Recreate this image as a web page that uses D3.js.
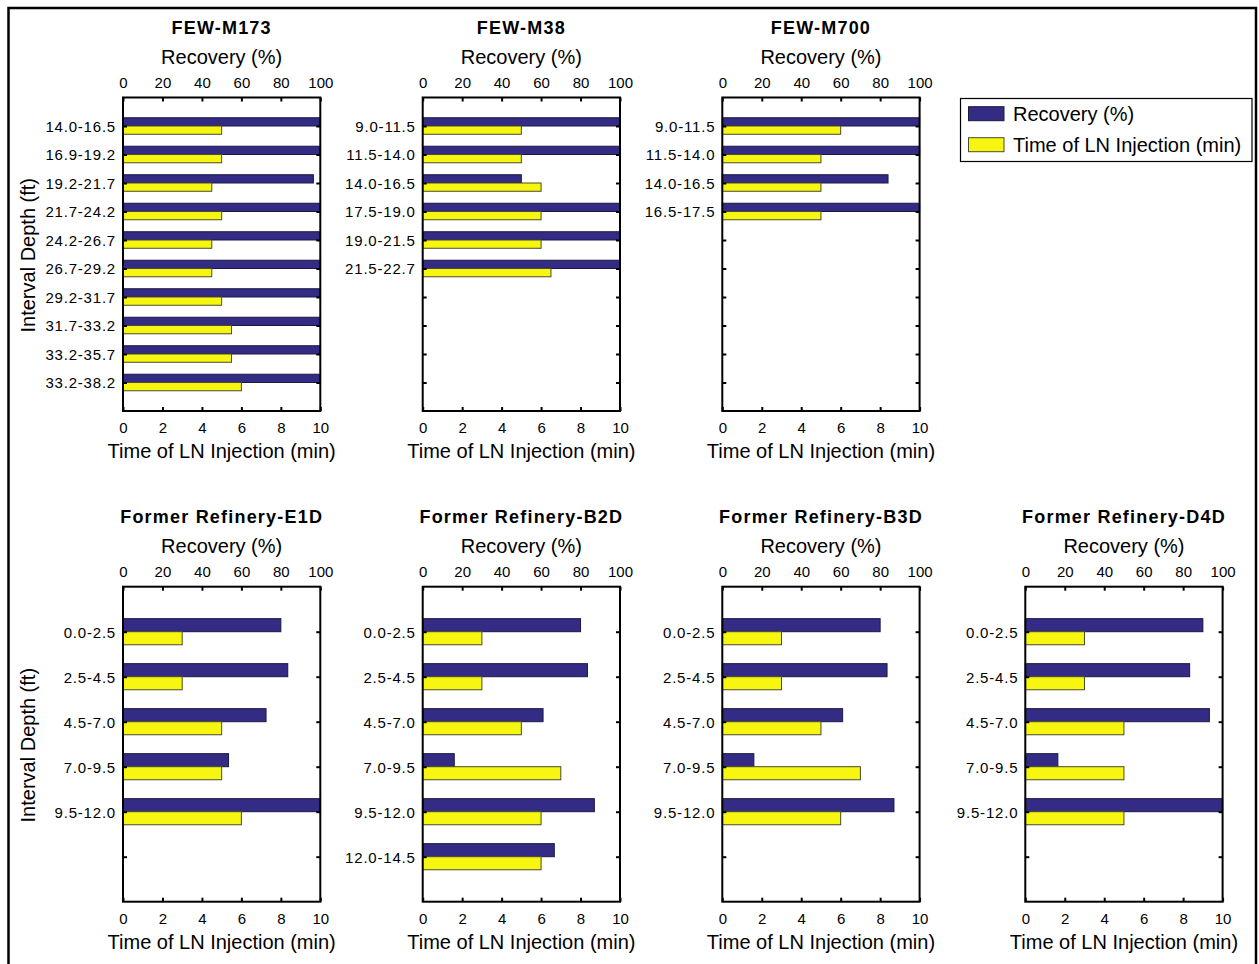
<!DOCTYPE html>
<html>
<head>
<meta charset="utf-8">
<script src="https://cdn.jsdelivr.net/npm/d3@7"></script>
<style>
  html, body { margin: 0; padding: 0; background: #fff; }
  svg { display: block; font-family: "Liberation Sans", Arial, Helvetica, sans-serif; }
</style>
</head>
<body>
<svg id="chart" width="1259" height="964"></svg>
<script>
// ---------------- DATA ----------------
const seriesNames = ["Recovery (%)", "Time of LN Injection (min)"];
const recoveryTicks = [0, 20, 40, 60, 80, 100];
const timeTicks = [0, 2, 4, 6, 8, 10];

const m173Depths = ["14.0-16.5", "16.9-19.2", "19.2-21.7", "21.7-24.2", "24.2-26.7", "26.7-29.2", "29.2-31.7", "31.7-33.2", "33.2-35.7", "33.2-38.2"];
const m173Recovery = [100, 100, 96.5, 100, 100, 100, 100, 100, 100, 100];
const m173Time = [5, 5, 4.5, 5, 4.5, 4.5, 5, 5.5, 5.5, 6];

const m38Depths = ["9.0-11.5", "11.5-14.0", "14.0-16.5", "17.5-19.0", "19.0-21.5", "21.5-22.7"];
const m38Recovery = [100, 100, 50, 100, 100, 100];
const m38Time = [5, 5, 6, 6, 6, 6.5];

const m700Depths = ["9.0-11.5", "11.5-14.0", "14.0-16.5", "16.5-17.5"];
const m700Recovery = [100, 100, 84, 100];
const m700Time = [6, 5, 5, 5];

const e1dDepths = ["0.0-2.5", "2.5-4.5", "4.5-7.0", "7.0-9.5", "9.5-12.0"];
const e1dRecovery = [80, 83.5, 72.5, 53.5, 100];
const e1dTime = [3, 3, 5, 5, 6];

const b2dDepths = ["0.0-2.5", "2.5-4.5", "4.5-7.0", "7.0-9.5", "9.5-12.0", "12.0-14.5"];
const b2dRecovery = [80, 83.5, 61, 16, 87, 66.7];
const b2dTime = [3, 3, 5, 7, 6, 6];

const b3dDepths = ["0.0-2.5", "2.5-4.5", "4.5-7.0", "7.0-9.5", "9.5-12.0"];
const b3dRecovery = [80, 83.5, 61, 16, 87];
const b3dTime = [3, 3, 5, 7, 6];

const d4dDepths = ["0.0-2.5", "2.5-4.5", "4.5-7.0", "7.0-9.5", "9.5-12.0"];
const d4dRecovery = [90, 83.3, 93.3, 16.5, 100];
const d4dTime = [3, 3, 5, 5, 5];

const panels = [
  { title: "FEW-M173", depths: m173Depths, recovery: m173Recovery, time: m173Time, row: 0, col: 0 },
  { title: "FEW-M38", depths: m38Depths, recovery: m38Recovery, time: m38Time, row: 0, col: 1 },
  { title: "FEW-M700", depths: m700Depths, recovery: m700Recovery, time: m700Time, row: 0, col: 2 },
  { title: "Former Refinery-E1D", depths: e1dDepths, recovery: e1dRecovery, time: e1dTime, row: 1, col: 0 },
  { title: "Former Refinery-B2D", depths: b2dDepths, recovery: b2dRecovery, time: b2dTime, row: 1, col: 1 },
  { title: "Former Refinery-B3D", depths: b3dDepths, recovery: b3dRecovery, time: b3dTime, row: 1, col: 2 },
  { title: "Former Refinery-D4D", depths: d4dDepths, recovery: d4dRecovery, time: d4dTime, row: 1, col: 3 }
];

// ---------------- LAYOUT ----------------
const colX = [123, 422.7, 722.3, 1025.3];
const panelW = 197.3;
const rowTop = [97.5, 586.7];
const rowH = [313.5, 315];
const rowSlots = [10, 6];
const colorRec = "#342b85";
const colorTime = "#f6f611";
const barHalf = 0.29;

const svg = d3.select("#chart");

// outer frame
svg.append("rect")
  .attr("x", 8.5).attr("y", 8).attr("width", 1247.5).attr("height", 1000)
  .attr("fill", "none").attr("stroke", "#000").attr("stroke-width", 2.5);

panels.forEach(p => {
  const x0 = colX[p.col], y0 = rowTop[p.row], h = rowH[p.row], n = rowSlots[p.row];
  const g = svg.append("g").attr("transform", `translate(${x0},${y0})`);

  const xRec = d3.scaleLinear().domain([0, 100]).range([0, panelW]);
  const xTime = d3.scaleLinear().domain([0, 10]).range([0, panelW]);
  const y = d3.scaleLinear().domain([0, n + 1]).range([0, h]);
  const slots = d3.range(1, n + 1);

  // bars
  g.selectAll("rect.rec").data(p.recovery).join("rect")
    .attr("class", "rec")
    .attr("x", xRec(0))
    .attr("y", (d, i) => y(i + 1 - barHalf))
    .attr("width", d => xRec(d) - xRec(0))
    .attr("height", y(barHalf) - y(0))
    .attr("fill", colorRec).attr("stroke", "#1a1a40").attr("stroke-width", 1);

  g.selectAll("rect.time").data(p.time).join("rect")
    .attr("class", "time")
    .attr("x", xTime(0))
    .attr("y", (d, i) => y(i + 1))
    .attr("width", d => xTime(d) - xTime(0))
    .attr("height", y(barHalf) - y(0))
    .attr("fill", colorTime).attr("stroke", "#4a4a30").attr("stroke-width", 1);

  // axes
  const top = g.append("g")
    .call(d3.axisTop(xRec).tickValues(recoveryTicks).tickSizeInner(-4).tickSizeOuter(0).tickPadding(10));
  const bottom = g.append("g").attr("transform", `translate(0,${h})`)
    .call(d3.axisBottom(xTime).tickValues(timeTicks).tickSizeInner(-4).tickSizeOuter(0).tickPadding(11.3));
  const left = g.append("g")
    .call(d3.axisLeft(y).tickValues(slots).tickSizeInner(-4).tickSizeOuter(0).tickPadding(7)
      .tickFormat(v => p.depths[v - 1] || ""));
  const right = g.append("g").attr("transform", `translate(${panelW},0)`)
    .call(d3.axisRight(y).tickValues(slots).tickSizeInner(-4).tickSizeOuter(0).tickFormat(""));

  [top, bottom, left, right].forEach(a => {
    a.select(".domain").remove();
    a.selectAll(".tick line").attr("stroke", "#000").attr("stroke-width", 2);
    a.selectAll(".tick text").attr("font-size", 15).attr("fill", "#000")
      .attr("font-family", "'Liberation Sans', Arial, sans-serif");
  });
  left.selectAll(".tick text").attr("letter-spacing", "0.8px").attr("dy", "0.36em");

  // box
  g.append("rect").attr("x", 0).attr("y", 0).attr("width", panelW).attr("height", h)
    .attr("fill", "none").attr("stroke", "#000").attr("stroke-width", 2);

  // titles
  g.append("text").attr("x", panelW / 2).attr("y", -64)
    .attr("text-anchor", "middle").attr("font-size", 18).attr("font-weight", "bold")
    .attr("letter-spacing", "1.2px").text(p.title);
  g.append("text").attr("x", panelW / 2).attr("y", -34)
    .attr("text-anchor", "middle").attr("font-size", 20).text(seriesNames[0]);
  g.append("text").attr("x", panelW / 2).attr("y", h + 47)
    .attr("text-anchor", "middle").attr("font-size", 20).text(seriesNames[1]);

  if (p.col === 0) {
    svg.append("text")
      .attr("transform", `translate(35,${y0 + h / 2 + 1}) rotate(-90)`)
      .attr("text-anchor", "middle").attr("font-size", 20).text("Interval Depth (ft)");
  }
});

// legend
const lg = svg.append("g");
lg.append("rect").attr("x", 960.5).attr("y", 98.5).attr("width", 291.5).attr("height", 63)
  .attr("fill", "#fff").attr("stroke", "#000").attr("stroke-width", 1.2);
const legendColors = [colorRec, colorTime];
const legendStrokes = ["#1a1a40", "#4a4a30"];
seriesNames.forEach((name, i) => {
  lg.append("rect").attr("x", 968.5).attr("y", 106.7 + i * 31).attr("width", 35.5).attr("height", 14)
    .attr("fill", legendColors[i]).attr("stroke", legendStrokes[i]).attr("stroke-width", 1);
  lg.append("text").attr("x", 1013).attr("y", 120.5 + i * 31).attr("font-size", 20).text(name);
});
</script>
</body>
</html>
